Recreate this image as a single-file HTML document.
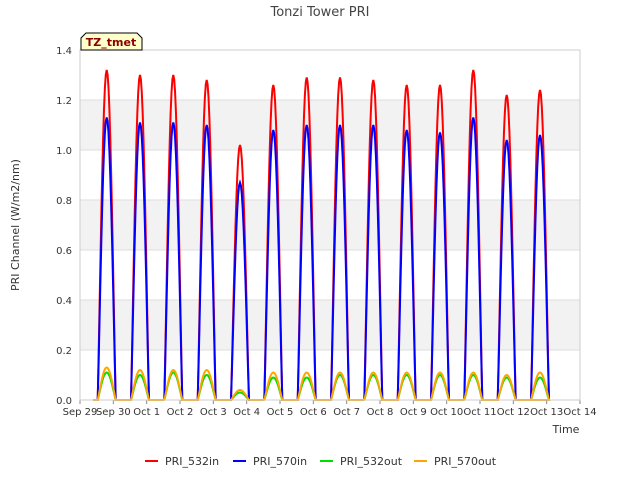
<!DOCTYPE html>
<html><head><meta charset="utf-8"><style>
body{margin:0;background:#fff;font-family:"Liberation Sans","DejaVu Sans",sans-serif}
svg text{font-family:"DejaVu Sans","Liberation Sans",sans-serif}
</style></head><body>
<svg id="c" width="640" height="480" xmlns="http://www.w3.org/2000/svg">
<rect width="640" height="480" fill="#fff"/>
<text x="320" y="16" text-anchor="middle" font-size="13" fill="#444">Tonzi Tower PRI</text>
<g id="grid"></g>
<g id="series"></g>
<g id="axes"></g>
<g>
<path d="M81,50 L81,38 L86,33 L137,33 L142,38 L142,50 Z" fill="#ffffcc" stroke="#000"/>
<text x="111" y="46" text-anchor="middle" font-size="11" font-weight="bold" fill="#8b0000">TZ_tmet</text>
</g>
<text x="566" y="433" text-anchor="middle" font-size="11" fill="#333">Time</text>
<text transform="translate(19,225) rotate(-90)" text-anchor="middle" font-size="11" fill="#333">PRI Channel (W/m2/nm)</text>
<g id="legend"></g>
</svg>
<script>
const xTickLabels=["Sep 29","Sep 30","Oct 1","Oct 2","Oct 3","Oct 4","Oct 5","Oct 6","Oct 7","Oct 8","Oct 9","Oct 10","Oct 11","Oct 12","Oct 13","Oct 14"];
const yTickLabels=["0.0","0.2","0.4","0.6","0.8","1.0","1.2","1.4"];
const yTickValues=[0,0.2,0.4,0.6,0.8,1.0,1.2,1.4];
const peakDays=[0,1,2,3,4,5,6,7,8,9,10,11,12,13];
const pri532in=[1.32,1.30,1.30,1.28,1.02,1.26,1.29,1.29,1.28,1.26,1.26,1.32,1.22,1.24];
const pri570in=[1.13,1.11,1.11,1.10,0.87,1.08,1.10,1.10,1.10,1.08,1.07,1.13,1.04,1.06];
const pri532out=[0.11,0.10,0.11,0.10,0.03,0.09,0.09,0.10,0.10,0.10,0.10,0.10,0.09,0.09];
const pri570out=[0.13,0.12,0.12,0.12,0.04,0.11,0.11,0.11,0.11,0.11,0.11,0.11,0.10,0.11];
const NS="http://www.w3.org/2000/svg";
const X0=80,X1=580,Y0=400,Y1=50;
const xs=d=>X0+(X1-X0)*d/15;
const ys=v=>Y0-(Y0-Y1)*v/1.4;
function mk(tag,attrs,parent){const e=document.createElementNS(NS,tag);for(const k in attrs)e.setAttribute(k,attrs[k]);parent.appendChild(e);return e;}
const grid=document.getElementById('grid'),axes=document.getElementById('axes'),ser=document.getElementById('series'),leg=document.getElementById('legend');
[[0.2,0.4],[0.6,0.8],[1.0,1.2]].forEach(b=>{const r=mk('rect',{x:X0,y:ys(b[1]),width:X1-X0,height:ys(b[0])-ys(b[1]),fill:'#f2f2f2'},grid);

});
yTickValues.forEach((v,i)=>{const l=mk('line',{x1:X0,x2:X1,y1:ys(v),y2:ys(v),stroke:'#ddd'},grid);


const t=mk('text',{x:X0-8,y:ys(v)+4,'text-anchor':'end','font-size':10,fill:'#333'},axes);t.textContent=yTickLabels[i];

});
xTickLabels.forEach((s,i)=>{const l=mk('line',{x1:xs(i),x2:xs(i),y1:Y0,y2:Y0+4,stroke:'#888'},axes);


const t=mk('text',{x:xs(i),y:Y0+15,'text-anchor':'middle','font-size':10,fill:'#333'},axes);t.textContent=s;

});
const fr=mk('rect',{x:X0,y:Y1,width:X1-X0,height:Y0-Y1,fill:'none',stroke:'#ccc'},axes);


function path(peaks,color,name,w){let d='M'+xs(0.4)+','+ys(0);
peakDays.forEach((day,i)=>{const c=day+0.8,h=0.27;
d+=' L'+xs(c-h)+','+ys(0);
for(let k=0;k<=20;k++){const t=-h+2*h*k/20;const v=peaks[i]*Math.pow(Math.cos(Math.PI*t/(2*h)),1.1);d+=' L'+xs(c+t).toFixed(1)+','+ys(v).toFixed(1);}
});
d+=' L'+xs(13.2)+','+ys(0);
const p=mk('path',{d:d,fill:'none',stroke:color,'stroke-width':w},ser);

}
path(pri532in,'#ff0000','series-pri-532in',2);
path(pri570in,'#0000ff','series-pri-570in',2);
path(pri532out,'#00dd00','series-pri-532out',2);
path(pri570out,'#ffa500','series-pri-570out',2);
const L=[['PRI_532in','#ff0000',145],['PRI_570in','#0000ff',233],['PRI_532out','#00dd00',320],['PRI_570out','#ffa500',414]];
L.forEach(e=>{const g=mk('g',{},leg);


mk('line',{x1:e[2],x2:e[2]+13,y1:461,y2:461,stroke:e[1],'stroke-width':2},g);
const t=mk('text',{x:e[2]+20,y:465,'font-size':11,fill:'#333'},g);t.textContent=e[0];});
</script>
</body></html>
